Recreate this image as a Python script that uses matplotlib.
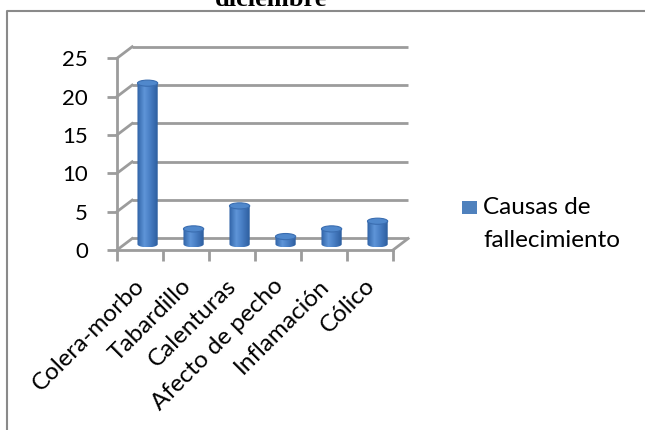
import numpy as np
import matplotlib
matplotlib.use("Agg")
import matplotlib.pyplot as plt
from matplotlib.patches import Polygon, Ellipse, Rectangle
from matplotlib.lines import Line2D
from matplotlib.colors import LinearSegmentedColormap
from matplotlib.transforms import ScaledTranslation

plt.rcParams['font.family'] = ['Lato', 'DejaVu Sans']

causas = ["Colera-morbo", "Tabardillo", "Calenturas", "Afecto de pecho",
          "Inflamación", "Cólico"]
fallecidos = [21, 2, 5, 1, 2, 3]
y_ticks = [0, 5, 10, 15, 20, 25]
titulo = "diciembre"

W, H = 645, 430
fig = plt.figure(figsize=(W / 100, H / 100), dpi=100)

# pseudo-3D depth offset, in data units (categories / deaths)
ddx, ddy = 0.33, 1.5
xmax, ymax = 6 + ddx + 0.05, 25 + ddy + 0.2

# front axis runs from x=117px to 393px and from y=250px up to 58px
px_x, px_y = 46.0, 7.67
left, bottom = 117, 250
ax = fig.add_axes([left / W, (H - bottom) / H, xmax * px_x / W, ymax * px_y / H])
ax.patch.set_visible(False)

grid_c = "#9c9c9c"
grid_lw = 2.0
fs = 17.5

# back wall gridlines and side wall connectors
for v in y_ticks:
    ax.plot([ddx, 6 + ddx], [v + ddy, v + ddy], color=grid_c, lw=grid_lw,
            solid_capstyle="butt", clip_on=False, zorder=1)
    ax.plot([0, ddx], [v, v + ddy], color=grid_c, lw=grid_lw, clip_on=False, zorder=1)
# right edge of the floor
ax.plot([6, 6 + ddx], [0, ddy], color=grid_c, lw=grid_lw, clip_on=False, zorder=1)

# cylinders
w = 0.44
eh = 0.8
xs = np.arange(len(causas)) + 0.5 + ddx / 2
y0 = ddy / 2
cmap = LinearSegmentedColormap.from_list(
    "cyl", [(0.0, "#2f62a6"), (0.35, "#5f95d8"), (0.6, "#4a80c6"), (1.0, "#2d5e9f")])
t = np.linspace(0, np.pi, 40)
for cx, v in zip(xs, fallecidos):
    top = y0 + v
    arc = np.column_stack([cx - w / 2 * np.cos(t), y0 - eh / 2 * np.sin(t)])
    pts = np.vstack([[cx - w / 2, top], arc, [cx + w / 2, top]])
    body = Polygon(pts, closed=True, facecolor="none", edgecolor="none")
    ax.add_patch(body)
    im = ax.imshow(np.linspace(0, 1, 50)[None, :], cmap=cmap, aspect="auto",
                   extent=[cx - w / 2, cx + w / 2, y0 - eh / 2, top],
                   zorder=3, interpolation="bilinear")
    im.set_clip_path(body)
    ax.add_patch(Ellipse((cx, top), w, eh, facecolor="#5088cc",
                         edgecolor="#3a6db0", lw=0.8, zorder=4))

ax.set_xlim(0, xmax)
ax.set_ylim(0, ymax)

# axis lines and ticks
for s in ["top", "right"]:
    ax.spines[s].set_visible(False)
ax.spines["left"].set_bounds(0, 25)
ax.spines["bottom"].set_bounds(0, 6)
for s in ["left", "bottom"]:
    ax.spines[s].set_color(grid_c)
    ax.spines[s].set_linewidth(grid_lw)
    ax.spines[s].set_zorder(2)

ax.set_yticks(y_ticks)
ax.set_yticklabels([str(v) for v in y_ticks], fontsize=16)
ax.tick_params(axis="y", length=7, width=grid_lw, color=grid_c, pad=14)
ax.set_xticks(np.arange(7), minor=True)
ax.set_xticks(np.arange(len(causas)) + 0.5)
ax.set_xticklabels(causas, fontsize=fs, rotation=45, ha="right",
                   rotation_mode="anchor")
ax.tick_params(axis="x", which="major", length=0, pad=18)
ax.tick_params(axis="x", which="minor", length=8, width=grid_lw, color=grid_c)
shift = ScaledTranslation(-6 / 100, 0, fig.dpi_scale_trans)
for lab in ax.get_xticklabels():
    lab.set_transform(lab.get_transform() + shift)

# legend
fig.patches.append(Rectangle((462 / W, 1 - 214 / H), 15 / W, 13 / H,
                             transform=fig.transFigure, facecolor="#4f81bd",
                             edgecolor="none"))
fig.text(483 / W, 1 - 214 / H, "Causas de", fontsize=fs, va="baseline", ha="left")
fig.text(483 / W, 1 - 247 / H, "fallecimiento", fontsize=fs, va="baseline", ha="left")

# chart frame
fig.lines.append(Line2D([7 / W, 7 / W, 1.0], [0.0, 1 - 11 / H, 1 - 11 / H],
                        transform=fig.transFigure, color="#8a8a8a", lw=1.5))

# title, cut at the top edge
fig.text(271 / W, 1 - 6 / H, titulo, fontsize=19, fontweight="bold",
         family="Liberation Serif", ha="center", va="baseline")

fig.savefig("out.png", dpi=100)
